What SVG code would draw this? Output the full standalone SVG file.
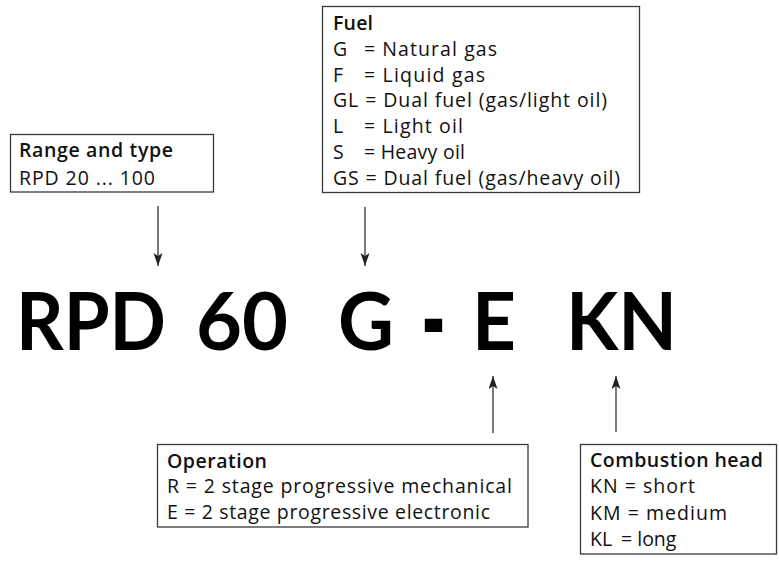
<svg xmlns="http://www.w3.org/2000/svg" width="779" height="563" viewBox="0 0 779 563">
<style>
.box{fill:#fff;stroke:#3a3a3a;stroke-width:1.3}
.t{font-family:"Open Sans","Noto Sans","Liberation Sans",sans-serif;font-size:19.5px;fill:#111}
.b{font-weight:600}
.big{font-family:Lato,"Liberation Sans",sans-serif;font-weight:bold;font-size:80px;fill:#000}
.c{stroke:#333;stroke-width:1.3;fill:none;marker-end:url(#ah)}
</style>
<defs>
<marker id="ah" markerUnits="userSpaceOnUse" markerWidth="14" markerHeight="10" refX="13" refY="4.5" orient="auto">
<path d="M0,0 L13,4.5 L0,9 L3,4.5 Z" fill="#222"/>
</marker>
</defs>
<rect width="779" height="563" fill="#fff"/>
<g id="code">
<text class="big" x="16" y="350" textLength="150" lengthAdjust="spacingAndGlyphs">RPD</text>
<text class="big" x="196" y="350" textLength="92" lengthAdjust="spacingAndGlyphs">60</text>
<text class="big" x="338" y="350" textLength="56" lengthAdjust="spacingAndGlyphs">G</text>
<text class="big" x="421" y="350" textLength="25" lengthAdjust="spacingAndGlyphs" transform="translate(0 326) scale(1 1.6) translate(0 -326)">-</text>
<text class="big" x="472" y="350" textLength="44" lengthAdjust="spacingAndGlyphs">E</text>
<text class="big" x="566" y="350" textLength="111" lengthAdjust="spacingAndGlyphs">KN</text>
</g>
<g id="range">
<rect class="box" x="10.5" y="134.5" width="203" height="57.5"/>
<text class="t b" x="19" y="157" textLength="154">Range and type</text>
<text class="t" x="19" y="185" textLength="136">RPD 20 ... 100</text>
</g>
<g id="fuel">
<rect class="box" x="322.5" y="6.5" width="317" height="186"/>
<text class="t b" x="333" y="30" textLength="40">Fuel</text>
<text class="t" y="56"><tspan x="333">G</tspan><tspan x="364" textLength="133">= Natural gas</tspan></text>
<text class="t" y="82"><tspan x="333">F</tspan><tspan x="364" textLength="121">= Liquid gas</tspan></text>
<text class="t" x="333" y="107" textLength="274">GL = Dual fuel (gas/light oil)</text>
<text class="t" y="133"><tspan x="333">L</tspan><tspan x="364" textLength="99">= Light oil</tspan></text>
<text class="t" y="159"><tspan x="333">S</tspan><tspan x="364" textLength="101">= Heavy oil</tspan></text>
<text class="t" x="333" y="185" textLength="287">GS = Dual fuel (gas/heavy oil)</text>
</g>
<g id="operation">
<rect class="box" x="157.5" y="444.5" width="370.5" height="82.5"/>
<text class="t b" x="167" y="468" textLength="100">Operation</text>
<text class="t" x="167" y="493" textLength="345">R = 2 stage progressive mechanical</text>
<text class="t" x="167" y="519" textLength="323">E = 2 stage progressive electronic</text>
</g>
<g id="head">
<rect class="box" x="580.5" y="444.5" width="196" height="109.5"/>
<text class="t b" x="590" y="467" textLength="173">Combustion head</text>
<text class="t" x="590" y="493" textLength="105">KN = short</text>
<text class="t" x="590" y="520" textLength="137">KM = medium</text>
<text class="t" y="546"><tspan x="590">KL</tspan><tspan x="621">= long</tspan></text>
</g>
<g id="connectors">
<line class="c" x1="158" y1="206" x2="158" y2="266"/>
<line class="c" x1="365" y1="207" x2="365" y2="266"/>
<line class="c" x1="493" y1="433" x2="493" y2="376"/>
<line class="c" x1="616" y1="432" x2="616" y2="376"/>
</g>
</svg>
